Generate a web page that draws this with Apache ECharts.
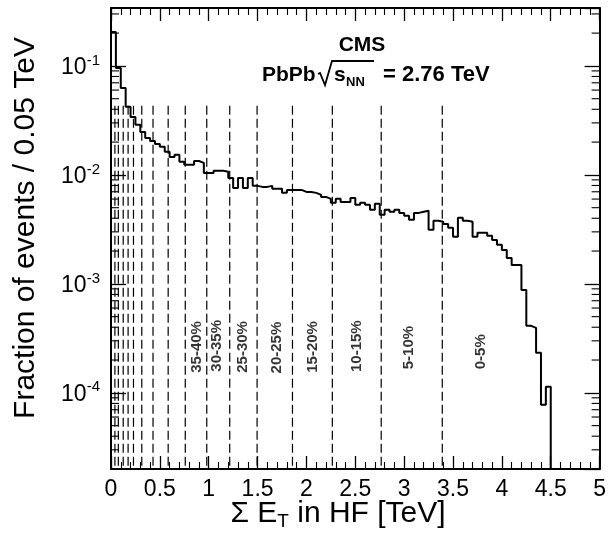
<!DOCTYPE html>
<html><head><meta charset="utf-8">
<script src="https://cdn.jsdelivr.net/npm/echarts@6/dist/echarts.min.js"></script>
<style>html,body{margin:0;padding:0;background:#fff}#c{width:609px;height:538px}</style>
</head><body><div id="c"></div>
<script>
// ---- data ----
const binWidth = 0.05; // TeV per bin
const fractions = [
  0.205, 0.0959, 0.0628, 0.0421, 0.0340, 0.0288, 0.0248, 0.0218, 0.0205, 0.0192,
  0.0181, 0.0163, 0.0146, 0.0153, 0.0132, 0.0124, 0.0124, 0.0134, 0.0129, 0.0104,
  0.0104, 0.0109, 0.0109, 0.0107, 0.00938, 0.00760, 0.00938, 0.00760, 0.00938, 0.00793,
  0.00776, 0.00776, 0.00793, 0.00745, 0.00745, 0.00684, 0.00728, 0.00728, 0.00728, 0.00698,
  0.00698, 0.00684, 0.00656, 0.00628, 0.00603, 0.00554, 0.00603, 0.00565, 0.00565, 0.00615,
  0.00531, 0.00554, 0.00531, 0.00478, 0.00542, 0.00430, 0.00478, 0.00458, 0.00478, 0.00448,
  0.00421, 0.00387, 0.00448, 0.00458, 0.00468, 0.00313, 0.00379, 0.00371, 0.00355, 0.00327,
  0.00270, 0.00404, 0.00379, 0.00371, 0.00270, 0.00294, 0.00294, 0.00276, 0.00253, 0.00228,
  0.00205, 0.00173, 0.00149, 0.00149, 0.00088, 0.000412, 0.000395, 0.000233, 0.0000776, 0.0001135
];
const centralityEdges = [0.04, 0.075, 0.125, 0.175, 0.23, 0.315, 0.43, 0.585, 0.76, 0.98,
  1.215, 1.495, 1.857, 2.265, 2.765, 3.39];
const centralityLabels = ['35-40%', '30-35%', '25-30%', '20-25%', '15-20%', '10-15%', '5-10%', '0-5%'];
const centralityLabelX = [0.878, 1.082, 1.347, 1.694, 2.061, 2.52, 3.051, 3.786];
const centralityLabelY = [2.64e-4, 2.7e-4, 2.64e-4, 2.6e-4, 2.64e-4, 2.68e-4, 2.6e-4, 2.38e-4];
const dashTop = 0.043;
const xTickLabels = ['0', '0.5', '1', '1.5', '2', '2.5', '3', '3.5', '4', '4.5', '5'];
const yTickExponents = [-4, -3, -2, -1];
const xMin = 0, xMax = 5;
const yMin = 2.0e-5, yMax = 0.34;

// ---- build ----
const FONT = '"Liberation Sans", Arial, Helvetica, sans-serif';
const histPoints = [[0, yMin]];
fractions.forEach((v, i) => histPoints.push([+(i * binWidth).toFixed(2), v]));
const lastEdge = +(fractions.length * binWidth).toFixed(2);
histPoints.push([lastEdge, fractions[fractions.length - 1]]);
histPoints.push([lastEdge, yMin]);

const yMinor = [];
for (let k = -5; k <= -1; k++) for (let m = 2; m <= 9; m++) {
  const v = m * Math.pow(10, k);
  if (v > yMin && v < yMax) yMinor.push(v);
}

const chart = echarts.init(document.getElementById('c'), null, {renderer: 'canvas'});
const axisLineStyle = {color: '#000', width: 2};
const xAxisCommon = {
  type: 'value', min: xMin, max: xMax, interval: 0.5,
  axisLine: {show: true, onZero: false, lineStyle: axisLineStyle},
  axisTick: {show: true, inside: true, length: 13, lineStyle: {color: '#000', width: 1.3}},
  minorTick: {show: true, splitNumber: 5, length: 7, lineStyle: {color: '#000', width: 1.1}},
  splitLine: {show: false}, minorSplitLine: {show: false}
};
const yAxisCommon = {
  type: 'log', logBase: 10, min: yMin, max: yMax, splitNumber: 5,
  axisLine: {show: true, onZero: false, lineStyle: axisLineStyle},
  axisTick: {show: true, inside: true, length: 15, lineStyle: {color: '#000', width: 1.3}},
  minorTick: {show: false}, splitLine: {show: false}
};

chart.setOption({
  animation: false,
  backgroundColor: '#fff',
  grid: {left: 111, right: 8, top: 8, bottom: 69, containLabel: false},
  xAxis: [
    Object.assign({}, xAxisCommon, {
      position: 'bottom',
      axisLabel: {
        show: true, margin: 9, color: '#000', fontSize: 23, fontFamily: FONT,
        formatter: v => { const i = Math.round(v / 0.5); return Math.abs(v - i * 0.5) < 1e-6 ? xTickLabels[i] : ''; }
      }
    }),
    Object.assign({}, xAxisCommon, {position: 'top', axisLabel: {show: false}})
  ],
  yAxis: [
    Object.assign({}, yAxisCommon, {
      position: 'left',
      axisLabel: {
        show: true, margin: 11, showMinLabel: false, showMaxLabel: false,
        formatter: v => {
          const l = Math.log10(v), e = Math.round(l);
          if (Math.abs(l - e) > 0.01 || yTickExponents.indexOf(e) < 0) return '';
          return '{b|10}{s|' + e + '}';
        },
        rich: {
          b: {fontSize: 23, fontFamily: FONT, color: '#000', lineHeight: 26, verticalAlign: 'bottom', padding: [5, 0, 0, 0]},
          s: {fontSize: 15, fontFamily: FONT, color: '#000', lineHeight: 12, verticalAlign: 'top'}
        }
      }
    }),
    Object.assign({}, yAxisCommon, {position: 'right', axisLabel: {show: false}})
  ],
  series: [
    {
      type: 'custom', name: 'yMinorTicks', xAxisIndex: 0, yAxisIndex: 0, silent: true, clip: false,
      data: yMinor.map(v => [xMin, v]),
      renderItem: (params, api) => {
        const v = api.value(1);
        const L = api.coord([xMin, v]), R = api.coord([xMax, v]);
        return {type: 'group', children: [
          {type: 'line', shape: {x1: L[0], y1: L[1], x2: L[0] + 8, y2: L[1]}, style: {stroke: '#000', lineWidth: 1.1}},
          {type: 'line', shape: {x1: R[0], y1: R[1], x2: R[0] - 8, y2: R[1]}, style: {stroke: '#000', lineWidth: 1.1}}
        ]};
      }
    },
    {
      type: 'custom', name: 'centralityEdges', xAxisIndex: 0, yAxisIndex: 0, silent: true,
      data: centralityEdges.map(x => [x, dashTop]),
      renderItem: (params, api) => {
        const t = api.coord([api.value(0), api.value(1)]);
        const b = api.coord([api.value(0), yMin]);
        return {type: 'line', shape: {x1: t[0], y1: t[1], x2: b[0], y2: b[1]},
          style: {stroke: '#000', lineWidth: 1.2, lineDash: [9, 4]}};
      }
    },
    {
      type: 'line', name: 'HF', xAxisIndex: 0, yAxisIndex: 0, step: 'end', symbol: 'none',
      data: histPoints, lineStyle: {color: '#000', width: 2}, z: 5
    },
    {
      type: 'scatter', name: 'labels', xAxisIndex: 0, yAxisIndex: 0, symbolSize: 1, silent: true,
      itemStyle: {color: 'rgba(0,0,0,0)'},
      data: centralityLabelX.map((x, i) => [x, centralityLabelY[i], centralityLabels[i]]),
      label: {
        show: true, position: 'inside', rotate: 90, formatter: p => p.data[2],
        color: '#000', fontSize: 15, fontWeight: 'bold', fontFamily: FONT
      }
    }
  ],
  graphic: [
    {type: 'text', x: 26, y: 228, rotation: Math.PI / 2,
      style: {text: 'Fraction of events / 0.05 TeV', fontSize: 30, fontFamily: FONT, fill: '#000',
        align: 'center', verticalAlign: 'middle', textAlign: 'center', textVerticalAlign: 'middle'}},
    {type: 'text', x: 338, y: 514,
      style: {text: '{a|\u03a3 E}{b|T}{a| in HF [TeV]}', fill: '#000',
        align: 'center', verticalAlign: 'middle', textAlign: 'center', textVerticalAlign: 'middle',
        rich: {a: {fontSize: 30, fontFamily: FONT, fill: '#000', lineHeight: 34},
               b: {fontSize: 19, fontFamily: FONT, fill: '#000', lineHeight: 18, verticalAlign: 'bottom'}}}},
    {type: 'text', x: 362, y: 45,
      style: {text: 'CMS', fontSize: 21, fontWeight: 'bold', fontFamily: FONT, fill: '#000',
        align: 'center', verticalAlign: 'middle', textAlign: 'center', textVerticalAlign: 'middle'}},
    {type: 'text', x: 262, y: 75,
      style: {text: 'PbPb', fontSize: 21, fontWeight: 'bold', fontFamily: FONT, fill: '#000',
        align: 'left', verticalAlign: 'middle', textAlign: 'left', textVerticalAlign: 'middle'}},
    {type: 'polyline', shape: {points: [[318, 74], [320, 73], [325, 85], [332, 61], [374, 61]]},
      style: {stroke: '#000', lineWidth: 1.8, fill: null}},
    {type: 'text', x: 334, y: 75,
      style: {text: 's', fontSize: 21, fontWeight: 'bold', fontFamily: FONT, fill: '#000',
        align: 'left', verticalAlign: 'middle', textAlign: 'left', textVerticalAlign: 'middle'}},
    {type: 'text', x: 346, y: 82,
      style: {text: 'NN', fontSize: 13, fontWeight: 'bold', fontFamily: FONT, fill: '#000',
        align: 'left', verticalAlign: 'middle', textAlign: 'left', textVerticalAlign: 'middle'}},
    {type: 'text', x: 383, y: 75,
      style: {text: '= 2.76 TeV', fontSize: 22, fontWeight: 'bold', fontFamily: FONT, fill: '#000',
        align: 'left', verticalAlign: 'middle', textAlign: 'left', textVerticalAlign: 'middle'}}
  ]
});
</script>
</body></html>
